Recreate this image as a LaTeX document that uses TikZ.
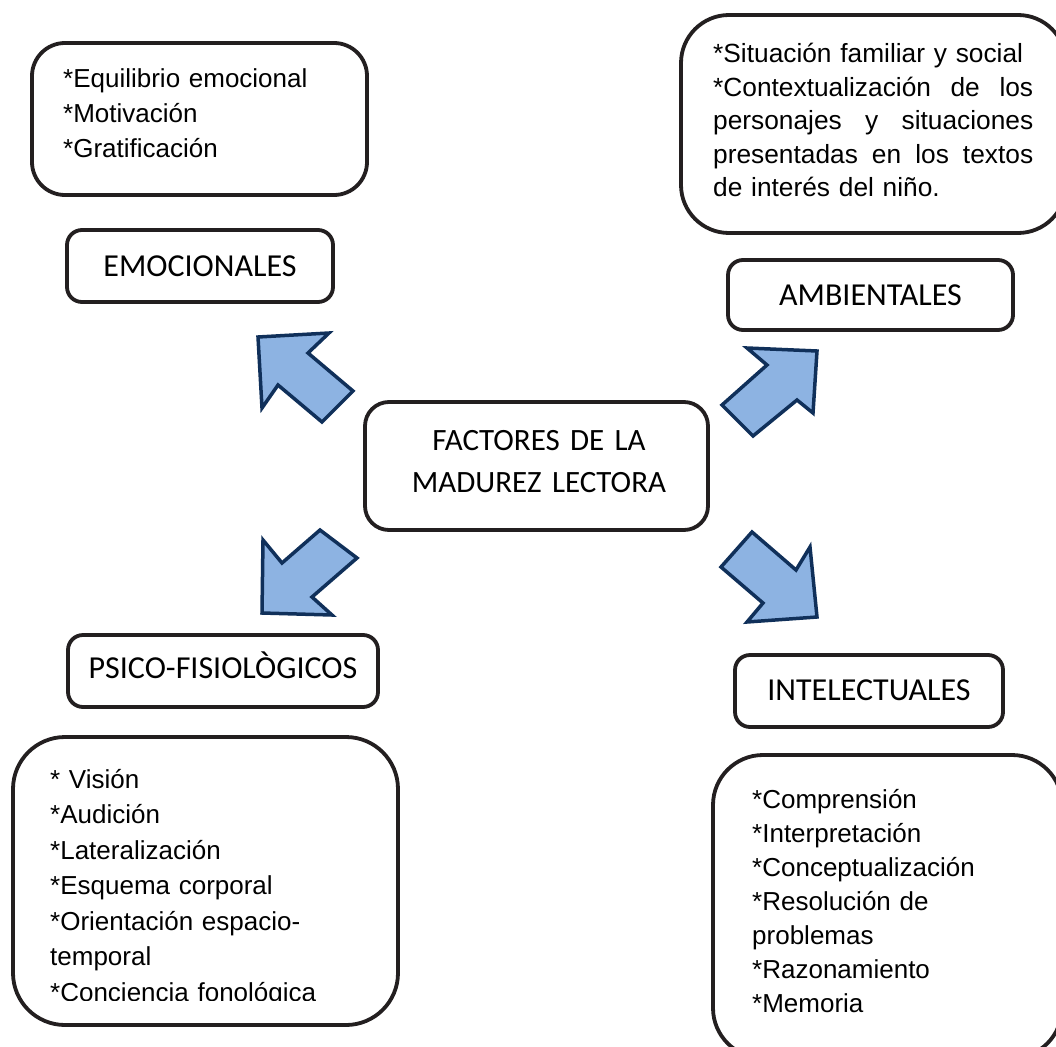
\documentclass[tikz,border=0pt]{standalone}
\usepackage{fontspec}
\setmainfont{Liberation Sans}
\newfontfamily\calib{Carlito}
\definecolor{arrowfill}{HTML}{8DB3E2}
\definecolor{arrowline}{HTML}{10305A}
\definecolor{boxline}{HTML}{231F20}
\tikzset{
  box/.style={draw=boxline, line width=3.8pt, inner sep=0pt},
  lbl/.style={box, rounded corners=15pt, font=\calib\fontsize{32}{38}\selectfont, text height=20pt, text depth=0pt},
  listtext/.style={inner sep=0pt, anchor=base west, align=left, text width=340pt},
  blockarrow/.style={fill=arrowfill, draw=arrowline, line width=3.5pt, line join=miter},
}
\newcommand{\jline}[1]{\leavevmode\hbox to 320pt{#1}}
\begin{document}
\begin{tikzpicture}[x=1pt, y=-1pt]
\useasboundingbox (0,0) rectangle (1056,1046);
\clip (0,0) rectangle (1056,1046);
\fill[white] (0,0) rectangle (1056,1046);

% content boxes
\node[box, rounded corners=33pt, minimum width=335pt, minimum height=152pt] (tlbox) at (199.5,119) {};
\node[box, rounded corners=48pt, minimum width=385pt, minimum height=218pt] (trbox) at (873.5,124) {};
\node[box, rounded corners=52pt, minimum width=385pt, minimum height=288pt] (blbox) at (205.5,881) {};
\node[box, rounded corners=50pt, minimum width=349pt, minimum height=303pt] (brbox) at (887.5,906.5) {};

% label boxes
\node[lbl, minimum width=266pt, minimum height=72pt] (emo) at (200,266) {EMOCIONALES};
\node[lbl, minimum width=285pt, minimum height=70pt] (amb) at (870.5,295) {AMBIENTALES};
\node[lbl, minimum width=310pt, minimum height=72pt, text height=14pt] (psi) at (223,671) {PSICO-FISIOLÒGICOS};
\node[lbl, minimum width=268pt, minimum height=72pt, text height=18pt] (int) at (869,691) {INTELECTUALES};

% central box
\node[box, rounded corners=24pt, minimum width=343pt, minimum height=128pt] (center) at (536.5,466) {};
\node[inner sep=0pt, anchor=base, align=center, text width=330pt,
      font=\calib\fontsize{31}{42}\selectfont] (centertext) at (539,450) {FACTORES DE LA\\MADUREZ LECTORA};

% list texts
\node[listtext, font=\fontsize{26}{35}\selectfont] (tltext) at (63,88)
  {*Equilibrio emocional\\{}*Motivación\\{}*Gratificación};
\node[listtext, font=\fontsize{26.3}{33.5}\selectfont] (trtext) at (713,63)
  {*Situación familiar y social\\
   \jline{*Contextualización \hfill de \hfill los}\\
   \jline{personajes \hfill y \hfill situaciones}\\
   \jline{presentadas \hfill en \hfill los \hfill textos}\\
   de interés del niño.};
\begin{scope}
  \clip (0,0) rectangle (1056,1000);
  \node[listtext, font=\fontsize{26}{35.5}\selectfont] (bltext) at (50,788)
    {* Visión\\{}*Audición\\{}*Lateralización\\{}*Esquema corporal\\{}*Orientación espacio-\\temporal\\{}*Conciencia fonológica};
\end{scope}
\node[listtext, font=\fontsize{26}{34}\selectfont] (brtext) at (752,808)
  {*Comprensión\\{}*Interpretación\\{}*Conceptualización\\{}*Resolución de\\problemas\\{}*Razonamiento\\{}*Memoria};

% block arrows
\draw[blockarrow] (258,337) -- (329,333) -- (308,353) -- (353,391) -- (322,422) -- (278,385) -- (262,408) -- cycle;
\draw[blockarrow] (817,351) -- (813,413) -- (797,400) -- (753,436) -- (722,405) -- (767,365) -- (747,348) -- cycle;
\draw[blockarrow] (262,613) -- (263,540) -- (282,563) -- (320,530) -- (357,558) -- (312,597) -- (332,615) -- cycle;
\draw[blockarrow] (817,617) -- (810,547) -- (796,570) -- (752,532) -- (721,567) -- (763,603) -- (747,622) -- cycle;
\end{tikzpicture}
\end{document}
